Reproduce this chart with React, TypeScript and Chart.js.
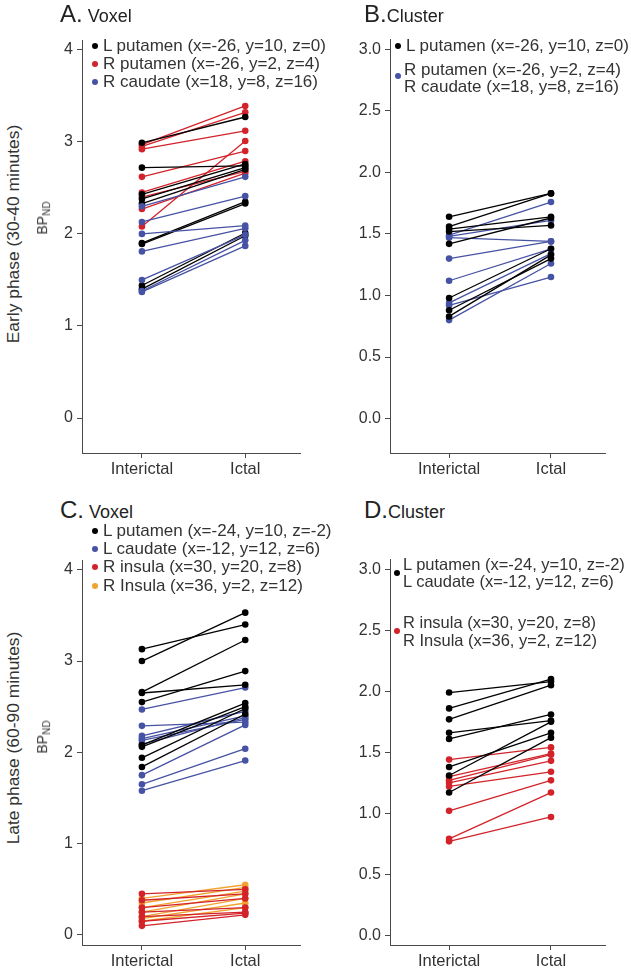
import React, { useEffect, useRef } from "react";
import { Chart, registerables } from "chart.js";

Chart.register(...registerables);

// ---------- data ----------
const categories = ["Interictal", "Ictal"];
const voxelTicks = [0, 1, 2, 3, 4];
const clusterTicks = [0, 0.5, 1, 1.5, 2, 2.5, 3];

// Panel A – early phase, voxel
const aLPutamenInterictal = [2.99, 2.72, 2.43, 2.38, 2.33, 1.9, 1.89, 1.44, 1.4];
const aLPutamenIctal = [3.27, 2.74, 2.76, 2.72, 2.7, 2.35, 2.33, 2.01, 1.98];
const aRPutamenInterictal = [2.97, 2.95, 2.92, 2.08, 2.62, 2.45, 2.4, 2.27];
const aRPutamenIctal = [3.39, 3.32, 3.12, 3.01, 2.9, 2.79, 2.68, 2.66];
const aRCaudateInterictal = [2.3, 2.13, 2.0, 1.81, 1.5, 1.38, 1.37];
const aRCaudateIctal = [2.62, 2.41, 2.09, 2.06, 1.99, 1.93, 1.87];

// Panel B – early phase, cluster
const bLPutamenInterictal = [1.64, 1.56, 1.54, 1.52, 1.42, 0.98, 0.88, 0.83];
const bLPutamenIctal = [1.83, 1.83, 1.64, 1.57, 1.63, 1.38, 1.3, 1.33];
const bRightInterictal = [1.49, 1.48, 1.47, 1.3, 1.12, 0.94, 0.92, 0.8];
const bRightIctal = [1.76, 1.61, 1.44, 1.44, 1.38, 1.34, 1.15, 1.26];

// Panel C – late phase, voxel
const cLPutamenInterictal = [3.13, 3.0, 2.66, 2.65, 2.55, 2.08, 2.06, 1.94, 1.84];
const cLPutamenIctal = [3.4, 3.53, 3.23, 2.74, 2.89, 2.54, 2.5, 2.48, 2.42];
const cLCaudateInterictal = [2.47, 2.29, 2.18, 2.15, 2.13, 2.09, 1.75, 1.65, 1.58];
const cLCaudateIctal = [2.71, 2.33, 2.45, 2.4, 2.36, 2.38, 2.3, 2.04, 1.91];
const cRInsulaInterictal = [0.45, 0.38, 0.3, 0.25, 0.2, 0.15, 0.1];
const cRInsulaIctal = [0.5, 0.45, 0.4, 0.3, 0.25, 0.24, 0.22];
const cRInsula2Interictal = [0.4, 0.35, 0.3, 0.25, 0.2, 0.18, 0.15];
const cRInsula2Ictal = [0.55, 0.52, 0.48, 0.45, 0.4, 0.35, 0.3];

// Panel D – late phase, cluster
const dLeftInterictal = [1.99, 1.86, 1.77, 1.66, 1.61, 1.38, 1.31, 1.17];
const dLeftIctal = [2.08, 2.1, 2.05, 1.76, 1.81, 1.66, 1.75, 1.62];
const dRightInterictal = [1.44, 1.3, 1.27, 1.25, 1.22, 1.02, 0.79, 0.77];
const dRightIctal = [1.54, 1.49, 1.48, 1.43, 1.34, 1.27, 1.17, 0.97];

// ---------- styles ----------
const BLACK = "#000000";
const RED = "#d2232a";
const BLUE = "#4652a3";
const ORANGE = "#f0a32e";
const AXIS = "#4a4a4a";
const TXT = "#333333";
const FONT = "'Liberation Sans', Arial, sans-serif";

const YW = 50;
const PT = 10;
const PR = 10;
const XH = 30;
const PB = 2;

type Series = { pre: number[]; post: number[]; color: string; order: number };

function buildConfig(series: Series[], yMin: number, yMax: number, ticks: number[], decimals: number) {
  const datasets: any[] = [];
  series.forEach((s) => {
    s.pre.forEach((v, i) => {
      datasets.push({
        data: [
          { x: 1, y: v },
          { x: 2, y: s.post[i] },
        ],
        borderColor: s.color,
        backgroundColor: s.color,
        pointBackgroundColor: s.color,
        pointBorderColor: s.color,
        pointRadius: 3.3,
        pointBorderWidth: 0,
        borderWidth: 1.3,
        order: s.order,
      });
    });
  });
  return {
    type: "line" as const,
    data: { datasets },
    options: {
      animation: false,
      responsive: false,
      events: [],
      layout: { autoPadding: false, padding: { top: PT, right: PR, left: 0, bottom: PB } },
      plugins: { legend: { display: false }, tooltip: { enabled: false } },
      scales: {
        x: {
          type: "linear",
          min: 0.42,
          max: 2.53,
          afterBuildTicks: (s: any) => {
            s.ticks = [{ value: 1 }, { value: 2 }];
          },
          afterFit: (s: any) => {
            s.height = XH;
          },
          grid: { drawOnChartArea: false, color: AXIS, tickLength: 5 },
          border: { color: AXIS, width: 1 },
          ticks: {
            callback: (v: number) => categories[Math.round(v) - 1],
            color: TXT,
            font: { family: FONT, size: 16.5 },
            padding: 2,
            maxRotation: 0,
            autoSkip: false,
          },
        },
        y: {
          type: "linear",
          min: yMin,
          max: yMax,
          afterBuildTicks: (s: any) => {
            s.ticks = ticks.map((v) => ({ value: v }));
          },
          afterFit: (s: any) => {
            s.width = YW;
          },
          grid: { drawOnChartArea: false, color: AXIS, tickLength: 5 },
          border: { color: AXIS, width: 1 },
          ticks: {
            callback: (v: number) => v.toFixed(decimals),
            color: TXT,
            font: { family: FONT, size: 16 },
            padding: 4,
            autoSkip: false,
          },
        },
      },
    },
  };
}

type PanelProps = {
  cl: number;
  cr: number;
  top: number;
  bottom: number;
  series: Series[];
  yMin: number;
  yMax: number;
  ticks: number[];
  decimals: number;
};

function Panel({ cl, cr, top, bottom, series, yMin, yMax, ticks, decimals }: PanelProps) {
  const ref = useRef<HTMLCanvasElement>(null);
  const w = cr - cl + YW + PR;
  const h = bottom - top + PT + XH + PB;
  useEffect(() => {
    if (!ref.current) return;
    const chart = new Chart(ref.current, buildConfig(series, yMin, yMax, ticks, decimals) as any);
    return () => chart.destroy();
  }, []);
  return (
    <canvas
      ref={ref}
      width={w}
      height={h}
      style={{ position: "absolute", left: cl - YW, top: top - PT, width: w, height: h }}
    />
  );
}

const abs = (left: number, top: number, extra: any = {}) => ({
  position: "absolute" as const,
  left,
  top,
  whiteSpace: "nowrap" as const,
  fontFamily: FONT,
  color: TXT,
  ...extra,
});

function Dot({ x, y, color }: { x: number; y: number; color: string }) {
  return (
    <div
      style={{
        position: "absolute",
        left: x - 3,
        top: y - 3,
        width: 6,
        height: 6,
        borderRadius: 3,
        background: color,
      }}
    />
  );
}

function Text({ x, y, size, children }: { x: number; y: number; size: number; children: any }) {
  return <div style={abs(x, y - size * 0.6, { fontSize: size, lineHeight: `${size * 1.2}px` })}>{children}</div>;
}

function Rotated({ cx, cy, size, children }: { cx: number; cy: number; size: number; children: any }) {
  return (
    <div
      style={abs(cx, cy, {
        fontSize: size,
        lineHeight: `${size * 1.2}px`,
        transform: "translate(-50%, -50%) rotate(-90deg)",
      })}
    >
      {children}
    </div>
  );
}

function Title({ x, y, letter, word }: { x: number; y: number; letter: string; word: string }) {
  return (
    <div style={abs(x, y - 14, { fontSize: 24, lineHeight: "28px", color: "#222" })}>
      {letter}
      <span style={{ fontSize: 18 }}>{word}</span>
    </div>
  );
}

export default function App() {
  const LS = 17;
  const LD = 16.5;
  return (
    <div style={{ position: "absolute", left: 0, top: 0, width: 631, height: 978, background: "#fff", overflow: "hidden" }}>
      <Panel
        cl={82}
        cr={300}
        top={36.7}
        bottom={453}
        yMin={-0.38}
        yMax={4.1}
        ticks={voxelTicks}
        decimals={0}
        series={[
          { pre: aLPutamenInterictal, post: aLPutamenIctal, color: BLACK, order: 2 },
          { pre: aRPutamenInterictal, post: aRPutamenIctal, color: RED, order: 3 },
          { pre: aRCaudateInterictal, post: aRCaudateIctal, color: BLUE, order: 1 },
        ]}
      />
      <Panel
        cl={390}
        cr={605}
        top={36}
        bottom={453}
        yMin={-0.28}
        yMax={3.08}
        ticks={clusterTicks}
        decimals={1}
        series={[
          { pre: bLPutamenInterictal, post: bLPutamenIctal, color: BLACK, order: 1 },
          { pre: bRightInterictal, post: bRightIctal, color: BLUE, order: 2 },
        ]}
      />
      <Panel
        cl={82}
        cr={300}
        top={557}
        bottom={945}
        yMin={-0.11}
        yMax={4.1}
        ticks={voxelTicks}
        decimals={0}
        series={[
          { pre: cLPutamenInterictal, post: cLPutamenIctal, color: BLACK, order: 1 },
          { pre: cLCaudateInterictal, post: cLCaudateIctal, color: BLUE, order: 2 },
          { pre: cRInsulaInterictal, post: cRInsulaIctal, color: RED, order: 3 },
          { pre: cRInsula2Interictal, post: cRInsula2Ictal, color: ORANGE, order: 4 },
        ]}
      />
      <Panel
        cl={390}
        cr={605}
        top={556}
        bottom={945}
        yMin={-0.08}
        yMax={3.08}
        ticks={clusterTicks}
        decimals={1}
        series={[
          { pre: dLeftInterictal, post: dLeftIctal, color: BLACK, order: 1 },
          { pre: dRightInterictal, post: dRightIctal, color: RED, order: 2 },
        ]}
      />

      {/* titles */}
      <Title x={60} y={14} letter="A." word=" Voxel" />
      <Title x={364} y={14} letter="B." word="Cluster" />
      <Title x={60} y={510} letter="C." word=" Voxel" />
      <Title x={364} y={510} letter="D." word="Cluster" />

      {/* row labels */}
      <Rotated cx={13} cy={234} size={17.4}>Early phase (30-40 minutes)</Rotated>
      <Rotated cx={13} cy={738} size={17.4}>Late phase (60-90 minutes)</Rotated>
      <Rotated cx={45} cy={218} size={14}>
        BP<span style={{ fontSize: 10, verticalAlign: "-3px" }}>ND</span>
      </Rotated>
      <Rotated cx={45} cy={737} size={14}>
        BP<span style={{ fontSize: 10, verticalAlign: "-3px" }}>ND</span>
      </Rotated>

      {/* legend A */}
      <Dot x={95} y={46} color={BLACK} />
      <Text x={103} y={46} size={LS}>L putamen (x=-26, y=10, z=0)</Text>
      <Dot x={95} y={64} color={RED} />
      <Text x={103} y={64} size={LS}>R putamen (x=-26, y=2, z=4)</Text>
      <Dot x={95} y={82} color={BLUE} />
      <Text x={103} y={82} size={LS}>R caudate (x=18, y=8, z=16)</Text>

      {/* legend B */}
      <Dot x={398} y={46} color={BLACK} />
      <Text x={406} y={46} size={LS}>L putamen (x=-26, y=10, z=0)</Text>
      <Dot x={398} y={76} color={BLUE} />
      <Text x={404} y={70} size={LS}>R putamen (x=-26, y=2, z=4)</Text>
      <Text x={404} y={87} size={LS}>R caudate (x=18, y=8, z=16)</Text>

      {/* legend C */}
      <Dot x={95} y={531} color={BLACK} />
      <Text x={103} y={531} size={LS}>L putamen (x=-24, y=10, z=-2)</Text>
      <Dot x={95} y={549} color={BLUE} />
      <Text x={103} y={549} size={LS}>L caudate (x=-12, y=12, z=6)</Text>
      <Dot x={95} y={567} color={RED} />
      <Text x={103} y={567} size={LS}>R insula (x=30, y=20, z=8)</Text>
      <Dot x={95} y={586} color={ORANGE} />
      <Text x={103} y={586} size={LS}>R Insula (x=36, y=2, z=12)</Text>

      {/* legend D */}
      <Dot x={397} y={573} color={BLACK} />
      <Text x={403} y={565} size={LD}>L putamen (x=-24, y=10, z=-2)</Text>
      <Dot x={397} y={631} color={RED} />
      <Text x={403} y={582} size={LD}>L caudate (x=-12, y=12, z=6)</Text>
      <Text x={403} y={623} size={LD}>R insula (x=30, y=20, z=8)</Text>
      <Text x={403} y={641} size={LD}>R Insula (x=36, y=2, z=12)</Text>
    </div>
  );
}
